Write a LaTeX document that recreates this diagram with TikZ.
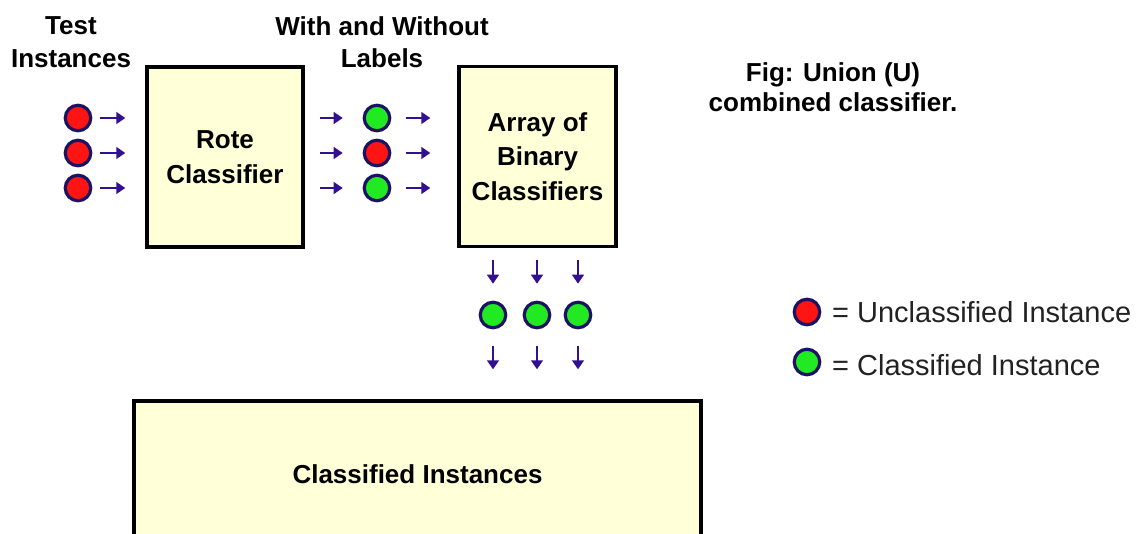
\documentclass[tikz,border=0pt]{standalone}
\usepackage{fontspec}
\setmainfont{Liberation Sans}
\usetikzlibrary{arrows.meta}
\definecolor{boxfill}{HTML}{FFFFD8}
\definecolor{navy}{HTML}{1A1262}
\definecolor{ired}{HTML}{FF1414}
\definecolor{igreen}{HTML}{22EA22}
\definecolor{arrcol}{HTML}{33108F}
\definecolor{legtext}{HTML}{222222}
\begin{document}
\begin{tikzpicture}[x=1pt,y=-1pt,
  box/.style={draw=black, line width=3.5pt, fill=boxfill, inner sep=0pt,
    font=\fontsize{26}{34.5}\selectfont\bfseries, align=center},
  inst/.style={circle, draw=navy, line width=3.2pt, minimum size=25.5pt, inner sep=0pt},
  redinst/.style={inst, fill=ired},
  greeninst/.style={inst, fill=igreen},
  flow/.style={draw=arrcol, line width=1.5pt, -{Triangle[length=9pt,width=12pt]}},
  lbl/.style={font=\fontsize{26}{33}\selectfont\bfseries, align=center, inner sep=0pt},
  legend/.style={font=\fontsize{29}{34}\selectfont, text=legtext, inner sep=0pt, anchor=base west}
]
\path[use as bounding box] (0,0) rectangle (1140,533);
\fill[white] (0,0) rectangle (1140,533);
\clip (0,0) rectangle (1140,533);

% labels
\node[lbl] (lbltest) at (71,42.5) {Test\\Instances};
\node[lbl, font=\fontsize{26}{32}\selectfont\bfseries] (lblwith) at (382,42) {With and Without\\Labels};
\node[lbl, font=\fontsize{26}{30}\selectfont\bfseries] (fig) at (833,87.5) {Fig: Union (U)\\combined classifier.};

% boxes
\node[box, minimum width=156pt, minimum height=180pt] (rote) at (225,157) {Rote\\Classifier};
\node[box, minimum width=157pt, minimum height=180pt] (array) at (537.5,156.5) {Array of\\Binary\\Classifiers};
\node[box, minimum width=567pt, minimum height=146pt] (result) at (417.5,474) {Classified Instances};

% test instances
\node[redinst] (t1) at (78,118) {};
\node[redinst] (t2) at (78,153) {};
\node[redinst] (t3) at (78,188) {};
% rote outputs
\node[greeninst] (m1) at (377,118) {};
\node[redinst]   (m2) at (377,153) {};
\node[greeninst] (m3) at (377,188) {};
% classified outputs
\node[greeninst] (b1) at (493,315) {};
\node[greeninst] (b2) at (537,315) {};
\node[greeninst] (b3) at (578,315) {};

% arrows into rote
\foreach \t in {t1,t2,t3}
  \draw[flow, shorten <=8pt, shorten >=20pt] (\t.east) -- (rote.west |- \t);
% arrows from rote to middle instances
\foreach \m in {m1,m2,m3}
  \draw[flow, shorten <=15pt, shorten >=20pt] (rote.east |- \m) -- (\m.west);
% arrows from middle instances to array
\foreach \m in {m1,m2,m3}
  \draw[flow, shorten <=15pt, shorten >=27pt] (\m.east) -- (array.west |- \m);
% arrows down from array
\foreach \b in {b1,b2,b3}
  \draw[flow, shorten <=12pt, shorten >=17pt] (array.south -| \b) -- (\b.north);
% arrows down into result box
\foreach \b in {b1,b2,b3}
  \draw[flow, shorten <=17pt, shorten >=30pt] (\b.south) -- (result.north -| \b);

% legend
\node[redinst] (legred) at (807,312) {};
\node[greeninst] (leggreen) at (807,362) {};
\node[legend] (legredtext) at (832,322) {= Unclassified Instance};
\node[legend] (leggreentext) at (832,375) {= Classified Instance};
\end{tikzpicture}
\end{document}
